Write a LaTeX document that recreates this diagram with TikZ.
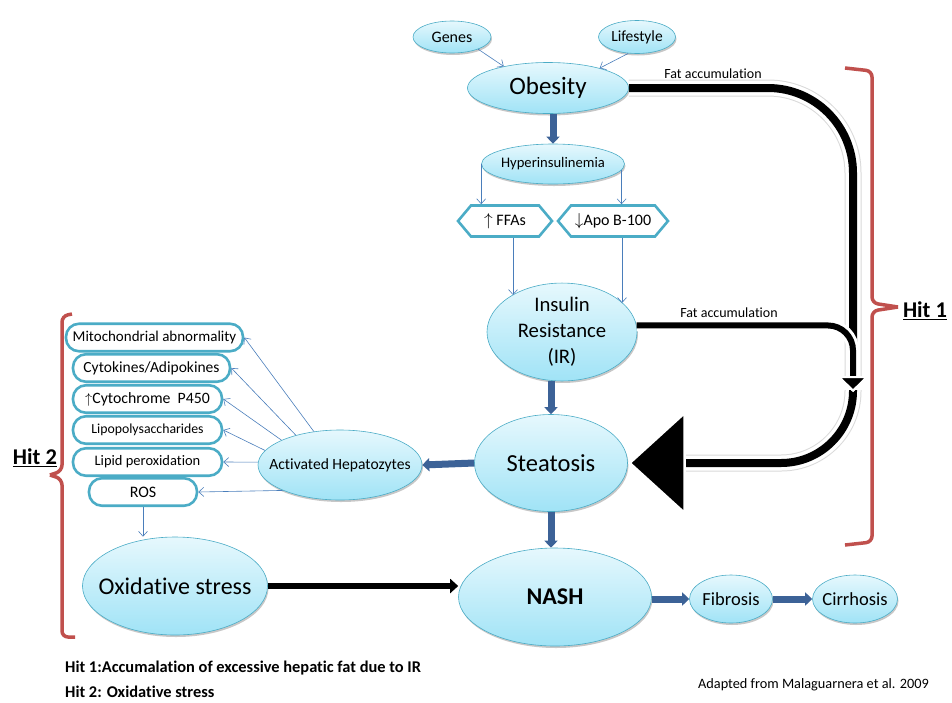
\documentclass[tikz,border=0pt]{standalone}
\usepackage{fontspec}
\setmainfont{Carlito}[Ligatures={TeX,NoCommon}]
\usetikzlibrary{shapes.geometric,shapes.symbols,arrows.meta,shadows}

\definecolor{cyanline}{HTML}{4BACC6}
\definecolor{thinblue}{HTML}{4A7EBB}
\definecolor{thickblue}{HTML}{3C6297}
\definecolor{bracered}{HTML}{C0504D}
\definecolor{bubbletop}{HTML}{E6F8FD}
\definecolor{bubblebot}{HTML}{A0E3F6}

\tikzset{
  bubble/.style={ellipse, draw=cyanline, line width=0.6pt, top color=bubbletop, bottom color=bubblebot, inner sep=0pt,
    drop shadow={shadow xshift=1pt, shadow yshift=-2pt, opacity=0.22, fill=black}},
  itembox/.style={draw=cyanline, line width=2.6pt, fill=white, rounded corners=13pt, minimum height=27.5pt, inner sep=0pt,
    font=\fontsize{14}{16}\selectfont},
  hexbox/.style={signal, signal to=west and east, signal pointer angle=100, draw=cyanline, line width=2.6pt, fill=white,
    minimum height=31pt, inner sep=0pt, font=\fontsize{16}{17}\selectfont},
  thinarrow/.style={draw=thinblue, line width=0.6pt, -{Straight Barb[length=5pt,width=9pt]}},
  thickarrow/.style={draw=thickblue, line width=7pt, -{Triangle[length=7pt,width=13pt]}},
  blackarrow/.style={draw=black, line width=6.5pt, -{Triangle[length=8pt,width=14pt]}},
  fathalo/.style={draw=white, line width=15pt},
  fatshade/.style={draw=black, opacity=0.15, line width=17pt, xshift=1.5pt, yshift=-2pt},
  hitbrace/.style={draw=bracered, line width=3.5pt, rounded corners=6pt},
  hitlabel/.style={inner sep=0pt, font=\bfseries\fontsize{22.5}{24}\selectfont},
  plaintext/.style={inner sep=0pt},
}

\begin{document}
\begin{tikzpicture}[x=1pt, y=-1pt]
    \useasboundingbox (0,0) rectangle (952,702);
    % causes and obesity
    \node[bubble, minimum width=78pt, minimum height=32pt, font=\fontsize{16}{18}\selectfont] (genes) at (452,37) {Genes};
    \node[bubble, minimum width=77pt, minimum height=33pt, font=\fontsize{15.5}{18}\selectfont] (lifestyle) at (637,37) {Lifestyle};
    \node[bubble, minimum width=161pt, minimum height=51pt, font=\fontsize{25}{27}\selectfont] (obesity) at (548,88) {Obesity};
    \node[bubble, minimum width=143pt, minimum height=40pt, font=\fontsize{14.6}{16}\selectfont] (hyper) at (553,164) {\makebox[0pt]{Hyperinsulinemia}};
    \node[hexbox, minimum width=94pt] (ffa) at (505,221) {$\uparrow$ FFAs};
    \node[hexbox, minimum width=110pt] (apo) at (613,221) {$\downarrow$Apo B-100};
    \node[bubble, minimum width=150pt, minimum height=97pt, align=center, font=\fontsize{20.7}{26}\selectfont] (ir) at (562,332) {Insulin\\Resistance\\(IR)};
    \node[bubble, minimum width=153pt, minimum height=97pt, font=\fontsize{24.5}{26}\selectfont] (steat) at (551,463) {Steatosis};
    \node[bubble, minimum width=164pt, minimum height=70pt, font=\fontsize{15.6}{17}\selectfont] (act) at (340,465) {\makebox[0pt]{Activated Hepatozytes}};
    \node[bubble, minimum width=185pt, minimum height=98pt, font=\fontsize{24}{26}\selectfont] (oxi) at (175,586) {\makebox[0pt]{Oxidative stress}};
    \node[bubble, minimum width=193pt, minimum height=98pt, font=\bfseries\fontsize{24}{26}\selectfont] (nash) at (555,597) {NASH};
    \node[bubble, minimum width=83pt, minimum height=48pt, font=\fontsize{18.5}{20}\selectfont] (fibrosis) at (731,599) {\makebox[0pt]{Fibrosis}};
    \node[bubble, minimum width=85pt, minimum height=48pt, font=\fontsize{18.5}{20}\selectfont] (cirrhosis) at (855,599) {\makebox[0pt]{Cirrhosis}};
    % hit 2 list
    \node[itembox, minimum width=177pt, font=\fontsize{15}{16}\selectfont] (mito) at (154.5,337.5) {\makebox[0pt]{Mitochondrial abnormality}};
    \node[itembox, minimum width=157pt, font=\fontsize{15.5}{17}\selectfont] (cytad) at (151.5,368) {\makebox[0pt]{Cytokines/Adipokines}};
    \node[itembox, minimum width=149pt, font=\fontsize{15.8}{17}\selectfont] (cyto) at (147.5,399) {\makebox[0pt]{$\uparrow$Cytochrome\ \ P450}};
    \node[itembox, minimum width=149pt, font=\fontsize{13.8}{15}\selectfont] (lps) at (147.5,430) {Lipopolysaccharides};
    \node[itembox, minimum width=149pt, font=\fontsize{14.5}{15}\selectfont] (lipid) at (147.5,462) {Lipid peroxidation};
    \node[itembox, minimum width=108pt, font=\fontsize{16}{17}\selectfont] (ros) at (143,492) {ROS};
    % thin connectors
    \draw[thinarrow] (genes.-25) -- (obesity.154);
    \draw[thinarrow] (lifestyle.242) -- (obesity.21);
    \draw[thinarrow] (hyper.west) -- (hyper.west |- ffa.north);
    \draw[thinarrow] (hyper.-5) -- (hyper.-5 |- apo.north);
    \draw[thinarrow] ([xshift=8pt]ffa.south) -- ([xshift=-49pt,yshift=37pt]ir.center);
    \draw[thinarrow] ([xshift=9pt]apo.south) -- ([xshift=60pt,yshift=29pt]ir.center);
    \draw[thinarrow] (act.128) -- (mito.east);
    \draw[thinarrow] (act.146) -- (cytad.east);
    \draw[thinarrow] (act.157) -- (cyto.east);
    \draw[thinarrow] (act.169) -- (lps.east);
    \draw[thinarrow] (act.178) -- (lipid.east);
    \draw[thinarrow] (act.204) -- (ros.east);
    \draw[thinarrow] (ros.south) -- (ros.south |- oxi.north);
    % thick connectors
    \draw[thickarrow] (hyper.north |- obesity.south) -- (hyper.north);
    \draw[thickarrow] (ir.south -| steat.north) -- (steat.north);
    \draw[thickarrow] (steat.west) -- (act.east);
    \draw[thickarrow] (steat.south) -- (steat.south |- nash.north);
    \draw[thickarrow] (nash.east |- fibrosis.west) -- (fibrosis.west);
    \draw[thickarrow] (fibrosis.east) -- (cirrhosis.west);
    \draw[blackarrow] (oxi.east) -- (oxi.east -| nash.west);
    % fat accumulation arrows
    \coordinate (hitjoin) at (853,392);
    \coordinate (hitsplit) at (853,390);
    \draw[fatshade, shorten >=58pt, rounded corners=72pt] (hitsplit) -- (hitsplit |- steat.east) -- (steat.east);
    \draw[fathalo, shorten >=58pt, rounded corners=72pt] (hitsplit) -- (hitsplit |- steat.east) -- (steat.east);
    \draw[line width=8pt, rounded corners=72pt, -{Triangle[length=58pt,width=105pt,color=white,fill=black,line width=2.5pt]}]
      (hitsplit) -- (hitsplit |- steat.east) -- (steat.east);
    \draw[fatshade, shorten >=16pt, rounded corners=85pt] (obesity.east) -- (obesity.east -| hitjoin) -- (hitjoin);
    \draw[fathalo, shorten >=16pt, rounded corners=85pt] (obesity.east) -- (obesity.east -| hitjoin) -- (hitjoin);
    \draw[line width=8pt, rounded corners=85pt, -{Triangle[length=16pt,width=32pt,color=white,fill=black,line width=2pt]}]
      (obesity.east) -- (obesity.east -| hitjoin) -- (hitjoin);
    \draw[fathalo, line width=12pt, shorten >=16pt, rounded corners=25pt] (ir.5) -- (ir.5 -| hitjoin) -- (hitjoin);
    \draw[line width=6pt, rounded corners=25pt, -{Triangle[length=16pt,width=32pt,color=white,fill=black,line width=2pt]}]
      (ir.5) -- (ir.5 -| hitjoin) -- (hitjoin);
    \node[plaintext, font=\fontsize{14}{15}\selectfont] (fatlabel1) at (713,74) {Fat accumulation};
    \node[plaintext, font=\fontsize{14}{15}\selectfont] (fatlabel2) at (729,313) {Fat accumulation};
    % braces
    \draw[hitbrace] (845,68) -- (872,71) -- (872,303) -- (898,307);
    \draw[hitbrace] (898,307) -- (872,311) -- (872,542) -- (845,545);
    \node[hitlabel] (hitone) at (925,311) {\underline{Hit 1}};
    \draw[hitbrace] (72,314) -- (62,316) -- (62,471) -- (50,475);
    \draw[hitbrace] (50,475) -- (62,479) -- (62,637) -- (75,637);
    \node[hitlabel] (hittwo) at (35,458) {\underline{Hit 2}};
    % notes
    \node[plaintext, anchor=west, font=\bfseries\fontsize{16.4}{18}\selectfont] (noteone) at (65,668) {Hit 1:Accumalation of excessive hepatic fat due to IR};
    \node[plaintext, anchor=west, font=\bfseries\fontsize{16.4}{18}\selectfont] (notetwo) at (65,692) {Hit 2: Oxidative stress};
    \node[plaintext, anchor=east, font=\fontsize{14.3}{15}\selectfont] (source) at (929,685) {Adapted from Malaguarnera et al. 2009};
\end{tikzpicture}
\end{document}
